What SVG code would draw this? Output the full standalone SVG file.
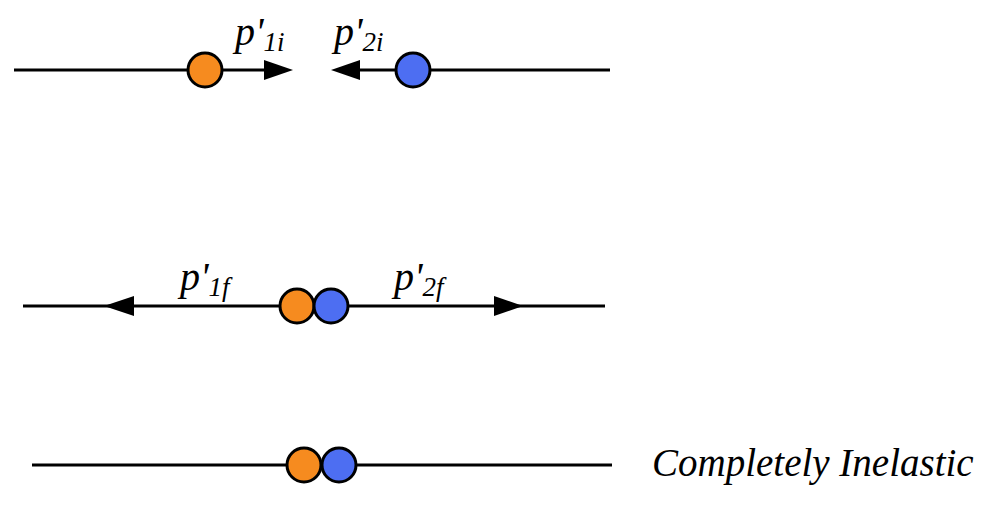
<svg xmlns="http://www.w3.org/2000/svg" width="983" height="517" viewBox="0 0 983 517">
<style>
.ln{stroke:#000;stroke-width:3;fill:none}
.o{fill:#f68b1f;stroke:#000;stroke-width:3}
.b{fill:#4d6ef2;stroke:#000;stroke-width:3}
.t{font-family:"Liberation Serif",serif;font-style:italic;font-size:40px}
.s{font-size:27px}
.c{font-size:39px}
</style>
<g id="connectors">
<line class="ln" x1="14" y1="70" x2="270" y2="70"/>
<polygon points="293,70 264,60 264,80"/>
<line class="ln" x1="355" y1="70" x2="610" y2="70"/>
<polygon points="331,70 360,60 360,80"/>
<line class="ln" x1="23" y1="306" x2="605" y2="306"/>
<polygon points="104,306 134,296 134,316"/>
<polygon points="523,306 494,296 494,316"/>
<line class="ln" x1="32" y1="465" x2="612" y2="465"/>
</g>
<g id="row1">
<circle class="o" cx="205" cy="70" r="17"/>
<circle class="b" cx="413" cy="70" r="17"/>
<text class="t" x="235" y="45">p'<tspan class="s" dy="6">1i</tspan></text>
<text class="t" x="334" y="45">p'<tspan class="s" dy="6">2i</tspan></text>
</g>
<g id="row2">
<circle class="o" cx="297" cy="306" r="17"/>
<circle class="b" cx="331" cy="306" r="17"/>
<text class="t" x="180" y="290">p'<tspan class="s" dy="6">1f</tspan></text>
<text class="t" x="394" y="290">p'<tspan class="s" dy="6">2f</tspan></text>
</g>
<g id="row3">
<circle class="o" cx="304" cy="465" r="17"/>
<circle class="b" cx="339" cy="465" r="17"/>
<text class="t c" x="652" y="476">Completely Inelastic</text>
</g>
</svg>
